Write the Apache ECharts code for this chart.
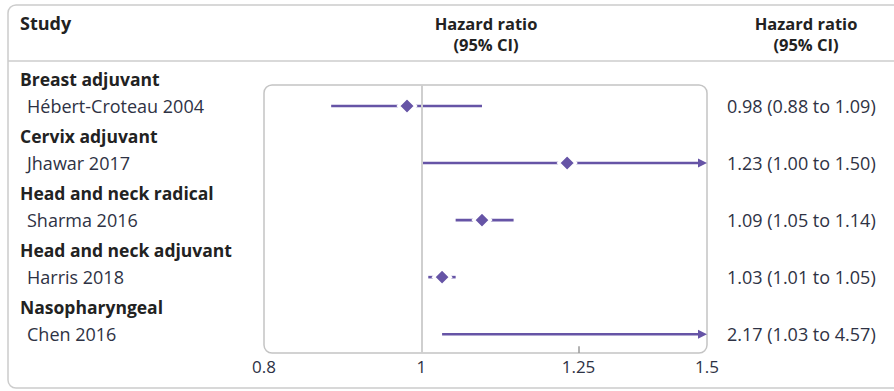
<!DOCTYPE html>
<html>
<head>
<meta charset="utf-8">
<script src="https://cdn.jsdelivr.net/npm/echarts@6/dist/echarts.min.js"></script>
<style>
  html, body { margin: 0; padding: 0; background: #fff; }
  #chart { width: 894px; height: 391px; }
</style>
</head>
<body>
<div id="chart"></div>
<script>
// 分组与研究
const groups = ['Breast adjuvant', 'Cervix adjuvant', 'Head and neck radical', 'Head and neck adjuvant', 'Nasopharyngeal'];
const studies = ['Hébert-Croteau 2004', 'Jhawar 2017', 'Sharma 2016', 'Harris 2018', 'Chen 2016'];
// 风险比及95%置信区间
const hr = [0.98, 1.23, 1.09, 1.03, 2.17];
const ciLow = [0.88, 1.00, 1.05, 1.01, 1.03];
const ciHigh = [1.09, 1.50, 1.14, 1.05, 4.57];
// 横轴刻度
const xTicks = [0.8, 1, 1.25, 1.5];
const xInnerTicks = [1.25];
const headerText = 'Hazard ratio\n(95% CI)';

const X_MIN = 0.8, X_MAX = 1.5;
const Y_MIN = -0.5, Y_MAX = 4.33;
const BOX_TOP_VAL = -0.37;       // 方框上沿（行坐标）
const GROUP_OFFSET = 0.47;       // 分组标题在研究行上方的距离
const TICK_LEN = 0.12;           // 内刻度长度（行坐标）

const purple = '#6654a6';
const grayLine = '#cccccc';
const textDark = '#222222';
const textReg = '#2e3244';
const FONT = '"Open Sans", sans-serif';

const ciText = hr.map((v, i) => `${v.toFixed(2)} (${ciLow[i].toFixed(2)} to ${ciHigh[i].toFixed(2)})`);

// 左侧标签：分组（粗体）和研究名
const leftLabels = [];
groups.forEach((g, i) => {
  leftLabels.push({ pos: +(i - GROUP_OFFSET).toFixed(2), text: g, group: true });
  leftLabels.push({ pos: i, text: studies[i], group: false });
});

const chart = echarts.init(document.getElementById('chart'), null, { renderer: 'svg' });

const gridLeft = 264, gridTop = 77.5, gridWidth = 443, gridHeight = 275.5;

// 参考线 x=1 与底部内刻度
const refLines = [[{ coord: [1, BOX_TOP_VAL] }, { coord: [1, Y_MAX] }]];
const tickLines = xInnerTicks.map(t => [{ coord: [t, Y_MAX] }, { coord: [t, Y_MAX - TICK_LEN] }]);

const option = {
  animation: false,
  textStyle: { fontFamily: FONT },
  grid: { left: gridLeft, top: gridTop, width: gridWidth, height: gridHeight, containLabel: false },
  xAxis: {
    type: 'log',
    logBase: 10,
    min: X_MIN,
    max: X_MAX,
    axisLine: { show: false, onZero: false },
    splitLine: { show: false },
    axisTick: { show: false },
    axisLabel: {
      customValues: xTicks,
      margin: 5,
      fontSize: 17,
      color: textReg,
      fontFamily: FONT,
      formatter: v => String(+(+v).toFixed(2))
    }
  },
  yAxis: [
    {
      type: 'value',
      inverse: true,
      min: Y_MIN,
      max: Y_MAX,
      axisLine: { show: false },
      axisTick: { show: false },
      splitLine: { show: false },
      axisLabel: {
        customValues: leftLabels.map(d => d.pos),
        align: 'left',
        margin: gridLeft - 20,
        formatter: v => {
          const d = leftLabels.find(l => Math.abs(l.pos - v) < 1e-6);
          if (!d) return '';
          return d.group ? `{g|${d.text}}` : `{s|${d.text}}`;
        },
        rich: {
          g: { fontFamily: FONT, fontSize: 17.5, fontWeight: 'bold', color: textDark },
          s: { fontFamily: FONT, fontSize: 18, color: textReg, padding: [0, 0, 0, 7] }
        }
      }
    },
    {
      type: 'value',
      position: 'right',
      inverse: true,
      min: Y_MIN,
      max: Y_MAX,
      axisLine: { show: false },
      axisTick: { show: false },
      splitLine: { show: false },
      axisLabel: {
        customValues: studies.map((s, i) => i),
        align: 'left',
        margin: 20,
        fontFamily: FONT,
        fontSize: 18,
        color: textReg,
        formatter: v => ciText[Math.round(v)] || ''
      }
    }
  ],
  graphic: [
    { type: 'rect', shape: { x: 8, y: 5, width: 910, height: 383, r: 8 },
      style: { fill: 'none', stroke: grayLine, lineWidth: 1.5 }, z: -1 },
    { type: 'line', shape: { x1: 8, y1: 61, x2: 894, y2: 61 },
      style: { stroke: grayLine, lineWidth: 1.5 } },
    { type: 'rect', shape: { x: gridLeft, y: 85, width: gridWidth, height: gridTop + gridHeight - 85, r: 8 },
      style: { fill: 'none', stroke: '#c4c4c4', lineWidth: 1.5 }, z: -1 },
    { type: 'text', x: 20, y: 23, style: { text: 'Study', font: `bold 18px ${FONT}`, fill: textDark, verticalAlign: 'middle' } },
    { type: 'text', x: 486, y: 34, style: { text: headerText, font: `bold 16.5px ${FONT}`, lineHeight: 21, fill: textDark, align: 'center', verticalAlign: 'middle' } },
    { type: 'text', x: 806, y: 34, style: { text: headerText, font: `bold 16.5px ${FONT}`, lineHeight: 21, fill: textDark, align: 'center', verticalAlign: 'middle' } }
  ],
  series: [
    {
      // 置信区间线段，超出范围时画箭头
      type: 'custom',
      xAxisIndex: 0,
      yAxisIndex: 0,
      data: studies.map((s, i) => [ciLow[i], ciHigh[i], i]),
      encode: { x: [0, 1], y: 2 },
      clip: false,
      z: 2,
      renderItem(params, api) {
        const lo = Math.max(api.value(0), X_MIN);
        const hiRaw = api.value(1);
        const hi = Math.min(hiRaw, X_MAX);
        const row = api.value(2);
        const p0 = api.coord([lo, row]);
        const p1 = api.coord([hi, row]);
        const arrow = hiRaw >= X_MAX;
        const children = [{
          type: 'line',
          shape: { x1: p0[0], y1: p0[1], x2: arrow ? p1[0] - 4 : p1[0], y2: p1[1] },
          style: { stroke: purple, lineWidth: 2.6 }
        }];
        if (arrow) {
          children.push({
            type: 'polygon',
            shape: { points: [[p1[0], p1[1]], [p1[0] - 9, p1[1] - 4.5], [p1[0] - 9, p1[1] + 4.5]] },
            style: { fill: purple }
          });
        }
        return { type: 'group', children };
      }
    },
    {
      // 点估计（菱形）
      type: 'scatter',
      xAxisIndex: 0,
      yAxisIndex: 0,
      data: hr.map((v, i) => [v, i]).filter(d => d[0] <= X_MAX),
      symbol: 'diamond',
      symbolSize: 17,
      itemStyle: { color: purple, borderColor: '#ffffff', borderWidth: 3, opacity: 1 },
      z: 3,
      silent: true,
      markLine: {
        silent: true,
        symbol: ['none', 'none'],
        label: { show: false },
        lineStyle: { color: '#cfcfcf', width: 2, type: 'solid' },
        data: refLines
      }
    },
    {
      // 底部内刻度（只用 markLine）
      type: 'line',
      xAxisIndex: 0,
      yAxisIndex: 0,
      data: [],
      silent: true,
      markLine: {
        silent: true,
        symbol: ['none', 'none'],
        label: { show: false },
        lineStyle: { color: '#9a9a9a', width: 1.5, type: 'solid' },
        data: tickLines
      }
    }
  ]
};

chart.setOption(option);
</script>
</body>
</html>
